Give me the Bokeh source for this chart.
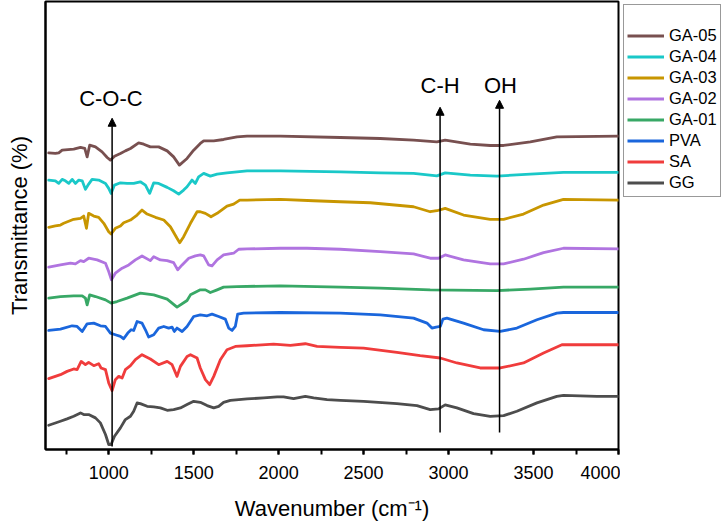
import numpy as np
from bokeh.plotting import figure
from bokeh.layouts import row
from bokeh.models import (Legend, LegendItem, Arrow, NormalHead,
                          SingleIntervalTicker, FixedTicker, ColumnDataSource)
from bokeh.core.properties import value
from bokeh.embed import file_html
from bokeh.resources import INLINE

# ---------------- data (wavenumber cm-1, offset transmittance a.u.) -------------
gg_wn = [647, 716, 755, 794, 834, 853, 882, 922, 951, 981, 1000, 1014, 1034, 1069,
         1098, 1128, 1147, 1167, 1186, 1226, 1265, 1304, 1344, 1382, 1422, 1461,
         1500, 1539, 1579, 1618, 1647, 1676, 1716, 1814, 1912, 1991, 2029, 2088,
         2157, 2206, 2285, 2363, 2500, 2696, 2814, 2892, 2941, 2980, 3049, 3147,
         3245, 3324, 3402, 3520, 3637, 3676, 3873, 4000]
gg_t = [24.3, 28.3, 30.7, 33.3, 36.7, 35, 35, 31.7, 26.7, 15, 5, 5, 13.3, 21.7,
        30, 33.3, 38.3, 46.7, 46, 43.3, 42.7, 41.7, 39.3, 40, 41.7, 45,
        48.3, 47.3, 44, 41.7, 43.3, 47.3, 49.3, 50.7, 51.7, 52.7, 52.7, 51,
        53.3, 51.7, 50, 49.3, 48.3, 46, 44, 40, 40.7, 44.7, 41.7, 36,
        33.3, 34, 38.3, 46.7, 53.3, 54.3, 53.3, 53.3]

sa_wn = [647, 716, 755, 794, 814, 838, 863, 882, 912, 941, 955, 981, 1000, 1020,
         1039, 1059, 1079, 1098, 1128, 1157, 1196, 1245, 1294, 1344, 1373, 1402,
         1422, 1461, 1481, 1520, 1539, 1569, 1594, 1618, 1657, 1696, 1745, 1814,
         1970, 2069, 2157, 2226, 2363, 2500, 2696, 2833, 2951, 3049, 3186, 3304,
         3441, 3559, 3667, 4000]
sa_t = [71, 75, 78.3, 80.7, 80, 88.3, 85, 87.3, 84, 86, 81.7, 80, 66.7, 59,
        70, 73.3, 71.7, 80, 84, 90, 95, 90.7, 85, 88.3, 85, 73.3,
        83.3, 93.3, 95, 91.7, 81.7, 70, 65, 73.3, 90, 100, 103.3, 104,
        105.7, 104.3, 106, 103.3, 102.3, 101.7, 97.3, 94, 91.7, 86.7, 81.7, 81.7,
        86.7, 96.7, 105, 105]

pva_wn = [647, 716, 785, 814, 844, 873, 912, 951, 981, 1010, 1039, 1069, 1088,
          1112, 1132, 1147, 1167, 1196, 1216, 1235, 1265, 1294, 1324, 1353, 1373,
          1386, 1402, 1432, 1461, 1500, 1539, 1579, 1608, 1647, 1686, 1706, 1726,
          1745, 1759, 1794, 2010, 2363, 2598, 2794, 2873, 2902, 2927, 2951, 2967,
          2990, 3088, 3206, 3304, 3402, 3520, 3637, 3676, 4000]
pva_t = [119.3, 120.7, 124, 123.3, 118.3, 126, 126.7, 124, 123.3, 116.7, 115, 113.3, 111,
         116.7, 120, 119.3, 128.3, 126.7, 120, 112.7, 115, 121.7, 123.3, 121.7, 122.7,
         118.3, 121.7, 118.3, 123.3, 133.3, 135, 134, 135.7, 133.3, 130.7, 121.7, 119.3,
         123.3, 135.7, 136.7, 137.3, 136.7, 135, 131.7, 126.7, 121.7, 122.7, 123.3, 130.7,
         131.7, 126.7, 120, 118.3, 121.7, 130, 136.7, 137.3, 137.3]

ga01_wn = [647, 716, 794, 844, 863, 873, 888, 922, 981, 1014, 1049, 1108, 1186,
           1265, 1344, 1402, 1461, 1481, 1539, 1569, 1598, 1638, 1676, 1755, 2010,
           2363, 2598, 2892, 3285, 3481, 3676, 4000]
ga01_t = [151.7, 153.3, 154, 154, 151.7, 145, 155, 153.3, 150, 146.7, 148.3, 151.7, 156.7,
          155, 150.7, 142.7, 149.3, 155, 160, 160, 157.3, 160, 162.7, 163.3, 164,
          162.7, 161.7, 160, 159.3, 160.7, 162.7, 162.7]

ga02_wn = [647, 716, 775, 804, 834, 853, 882, 932, 981, 1000, 1016, 1039, 1079,
           1118, 1157, 1196, 1245, 1265, 1304, 1344, 1382, 1406, 1432, 1471, 1510,
           1539, 1559, 1588, 1608, 1638, 1676, 1735, 1765, 1814, 2010, 2167, 2363,
           2598, 2794, 2892, 2941, 2980, 3088, 3245, 3324, 3441, 3559, 3676, 4000]
ga02_t = [182.7, 185, 186.7, 186, 189.3, 188.3, 191.7, 190, 186.7, 178.3, 170, 176.7, 181.7,
          185, 190, 194, 189.3, 193.3, 190, 189.3, 187.3, 180, 185, 191.7, 194,
          195, 194, 185, 184, 190, 195, 196.7, 200.7, 201, 201.7, 201.7, 200.7,
          198.3, 196, 191.7, 191.7, 195, 190, 186, 186, 190.7, 197.3, 201.7, 201]

ga03_wn = [647, 686, 716, 735, 794, 834, 853, 869, 882, 912, 941, 971, 1000, 1014,
           1039, 1069, 1088, 1128, 1167, 1196, 1226, 1275, 1324, 1363, 1402, 1418,
           1441, 1481, 1520, 1539, 1569, 1602, 1638, 1696, 1735, 1771, 1814, 2010,
           2206, 2363, 2539, 2794, 2892, 2931, 2980, 3088, 3245, 3324, 3441, 3559,
           3676, 4000]
ga03_t = [222.7, 224, 225, 226.7, 230.7, 231.7, 234, 221.7, 236.7, 234, 232.7, 226.7, 218.3, 216,
          221.7, 224, 227.3, 230, 235, 240, 236, 232.7, 230, 223.3, 211.7, 207.3,
          213.3, 226.7, 238.3, 238.3, 236.7, 233.3, 236.7, 244, 246, 250, 250, 250.7,
          249.3, 248.3, 247.3, 243.3, 238.3, 239.3, 241.7, 235, 230.7, 230.7, 236, 245,
          250.7, 250]

ga04_wn = [647, 686, 706, 726, 745, 765, 785, 804, 824, 844, 863, 882, 902, 941,
           981, 1000, 1014, 1034, 1069, 1108, 1147, 1186, 1216, 1241, 1265, 1294,
           1344, 1382, 1412, 1441, 1461, 1490, 1510, 1529, 1559, 1598, 1638, 1696,
           1755, 1814, 2010, 2363, 2598, 2794, 2931, 2980, 3128, 3285, 3481, 3676, 4000]
ga04_t = [270, 269.3, 266.7, 270.7, 269.3, 266.7, 270.7, 266.7, 270, 269.3, 260.7, 266, 270.7, 270,
          266.7, 261.7, 256.7, 265, 267.3, 266.7, 266.7, 268.3, 265, 256.7, 267.3, 266.7,
          262.7, 259.3, 256, 260, 263.3, 270, 266.7, 273.3, 276.7, 274, 276, 277.3,
          278.3, 279.3, 279.3, 278.3, 277.3, 276.7, 274.3, 277.3, 275, 274, 276, 277.7, 277.7]

ga05_wn = [647, 686, 706, 726, 794, 834, 859, 873, 888, 922, 961, 991, 1010, 1034,
           1069, 1098, 1128, 1176, 1206, 1245, 1294, 1344, 1382, 1416, 1461, 1500,
           1539, 1559, 1618, 1676, 1755, 1814, 2010, 2363, 2598, 2794, 2931, 2980,
           3128, 3245, 3324, 3481, 3637, 4000]
ga05_t = [297.3, 296.7, 297.3, 300, 301, 302.7, 301.7, 293.3, 305, 303.3, 298.3, 292.7, 290, 294,
          296.7, 299.3, 301.7, 307.3, 306, 303.3, 303.3, 299.3, 293.3, 285, 291.7, 300,
          306.7, 309.3, 309.3, 310.7, 313.3, 314, 314, 312.7, 311.7, 310, 308.3, 310,
          306, 304.7, 304.7, 308.3, 313.3, 314]

series_names = ["GA-05", "GA-04", "GA-03", "GA-02", "GA-01", "PVA", "SA", "GG"]
series_colors = ["#785050", "#1ac8c8", "#c89600", "#b074e0", "#38a866", "#1a66dc",
                 "#f03c3c", "#4d4d4d"]
series_wn = [ga05_wn, ga04_wn, ga03_wn, ga02_wn, ga01_wn, pva_wn, sa_wn, gg_wn]
series_t = [ga05_t, ga04_t, ga03_t, ga02_t, ga01_t, pva_t, sa_t, gg_t]

# band annotations
band_labels = ["C-O-C", "C-H", "OH"]
band_wn = [1020, 2950, 3300]
band_label_wn = [1013, 2950, 3305]
band_y_start = [3, 17, 17]
band_y_end = [332, 343, 350]
band_label_y = [352, 365, 365]

x_tick_interval = 500

# ---------------- main figure --------------------------------------------------
FONT = "Liberation Sans"
W, H = 620, 523
LEFT, RIGHT, TOP, BOTTOM = 45, 2, 1, 73
p = figure(width=W, height=H, x_range=(628, 4000), y_range=(0, 449),
           output_backend="svg", toolbar_location=None,
           min_border_left=LEFT, min_border_right=RIGHT, min_border_top=TOP,
           min_border_bottom=BOTTOM)
p.xgrid.visible = False
p.ygrid.visible = False
p.outline_line_color = "black"
p.outline_line_width = 2
p.outline_line_alpha = 1.0
p.background_fill_color = "white"
p.border_fill_color = "white"

for col, wn, t in zip(series_colors, series_wn, series_t):
    p.line(wn, t, line_width=2.8, color=col, line_join="round", line_cap="round")

xa = p.xaxis[0]
xa.ticker = SingleIntervalTicker(interval=x_tick_interval, num_minor_ticks=2)
xa.axis_line_width = 2
xa.major_tick_in = 0
xa.major_tick_out = 5
xa.minor_tick_in = 0
xa.minor_tick_out = 5
xa.major_tick_line_width = 2
xa.minor_tick_line_width = 2
xa.major_label_text_font = FONT
xa.major_label_text_font_size = "18px"
xa.major_label_text_color = "black"
xa.major_label_standoff = 11
xa.axis_label = "Wavenumber (cm⁻¹)"
xa.axis_label_text_font = FONT
xa.axis_label_text_font_size = "22px"
xa.axis_label_text_font_style = "normal"
xa.axis_label_text_color = "black"
xa.axis_label_standoff = 14

ya = p.yaxis[0]
ya.ticker = FixedTicker(ticks=[])
ya.axis_line_width = 2
ya.major_tick_in = 0
ya.major_tick_out = 0
ya.minor_tick_in = 0
ya.minor_tick_out = 0
ya.major_label_standoff = 0
ya.axis_label = "Transmittance (%)"
ya.axis_label_text_font = FONT
ya.axis_label_text_font_size = "22px"
ya.axis_label_text_font_style = "normal"
ya.axis_label_text_color = "black"
ya.axis_label_standoff = 14

for xs, y0, y1 in zip(band_wn, band_y_start, band_y_end):
    p.add_layout(Arrow(x_start=xs, y_start=y0, x_end=xs, y_end=y1,
                       line_width=1.5, line_color="black",
                       end=NormalHead(size=8, line_color="black", fill_color="black",
                                      line_width=1)))

lab_src = ColumnDataSource(dict(x=band_label_wn, y=band_label_y, text=band_labels))
p.text(x="x", y="y", text="text", source=lab_src, text_align="center",
       text_baseline="middle", text_font=value(FONT), text_font_size="22px",
       text_color="black")

# ---------------- legend panel (outside the frame, at the right) ---------------
LW = 101
pl = figure(width=LW, height=H, x_range=(0, 1), y_range=(0, 1),
            output_backend="svg", toolbar_location=None, min_border=0)
pl.axis.visible = False
pl.grid.visible = False
pl.outline_line_color = None
pl.background_fill_color = "white"
pl.border_fill_color = "white"

items = []
for name, col in zip(series_names, series_colors):
    # legend-only renderer: a single NaN point, nothing is drawn in the panel
    src = ColumnDataSource(dict(x=np.array([np.nan]), y=np.array([np.nan])))
    r = pl.line(x="x", y="y", source=src, line_width=2.8, color=col)
    items.append(LegendItem(label=name, renderers=[r]))

legend = Legend(items=items, location="top_left", orientation="vertical")
legend.title = " "
legend.title_text_font_size = "15px"
legend.title_standoff = 0
legend.label_text_font = FONT
legend.label_text_font_size = "16.5px"
legend.label_text_color = "black"
legend.label_height = 21
legend.glyph_height = 21
legend.glyph_width = 37
legend.label_standoff = 5
legend.spacing = 0
legend.padding = 3
legend.margin = 3
legend.border_line_color = "#333333"
legend.border_line_width = 1
legend.background_fill_alpha = 1.0
pl.add_layout(legend, "center")

layout = row(p, pl)
open("out.html", "w").write(file_html(layout, INLINE))
